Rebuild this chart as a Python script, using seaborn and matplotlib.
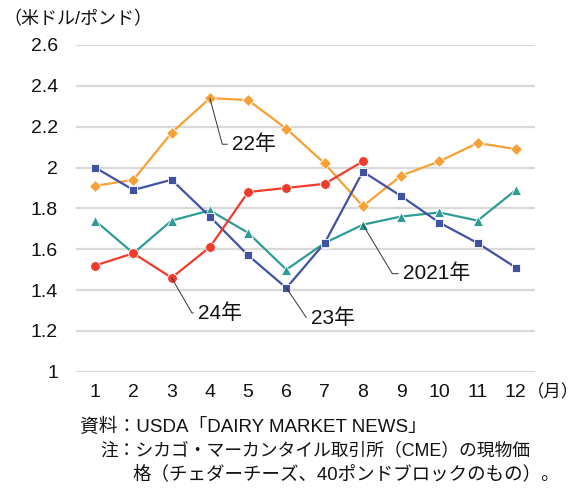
import matplotlib
matplotlib.use("Agg")
import matplotlib.pyplot as plt
import seaborn as sns
import pandas as pd

sns.set_theme(style="white")
plt.rcParams['font.family'] = ['Liberation Sans', 'Noto Sans CJK JP', 'DejaVu Sans']

months = list(range(1, 13))
y2021 = [1.74, 1.58, 1.74, 1.79, 1.68, 1.50, 1.63, 1.72, 1.76, 1.78, 1.74, 1.89]
y2022 = [1.91, 1.94, 2.17, 2.34, 2.33, 2.19, 2.02, 1.81, 1.96, 2.03, 2.12, 2.09]
y2023 = [2.00, 1.89, 1.94, 1.76, 1.57, 1.41, 1.63, 1.98, 1.86, 1.73, 1.63, 1.51]
y2024 = [1.52, 1.58, 1.46, 1.61, 1.88, 1.90, 1.92, 2.03]
yticks = [1, 1.2, 1.4, 1.6, 1.8, 2, 2.2, 2.4, 2.6]
ytick_labels = ["1", "1.2", "1.4", "1.6", "1.8", "2", "2.2", "2.4", "2.6"]

series = [
    ("2021年", y2021, "#2E9C95", "^", 6.5),
    ("22年", y2022, "#F7A035", "D", 6.3),
    ("23年", y2023, "#4152A3", "s", 6.2),
    ("24年", y2024, "#EE3B2C", "o", 7),
]

W, H = 581, 491
fig = plt.figure(figsize=(W/100, H/100), dpi=100)
ax = fig.add_axes([76/W, 1 - 371.7/H, (535-76)/W, (371.7-45)/H])

for name, vals, color, mk, ms in series:
    df = pd.DataFrame({"month": months[:len(vals)], "value": vals})
    sns.lineplot(data=df, x="month", y="value", ax=ax, color=color, linewidth=1.6,
                 marker=mk, markersize=ms, markeredgecolor="white", markeredgewidth=0.6,
                 legend=False)

ax.set_xlim(0.5, 12.5)
ax.set_ylim(1, 2.6)
ax.set_yticks(yticks)
ax.set_yticklabels(ytick_labels)
ax.set_xticks(months)
ax.set_xticklabels([str(m) for m in months])
ax.set_xlabel("")
ax.set_ylabel("")
for s in ax.spines.values():
    s.set_visible(False)
ax.yaxis.grid(True, color="#D9D9D9", linewidth=1.6)
ax.set_axisbelow(True)
ax.tick_params(axis="both", length=0, labelsize=14, colors="#111111")
ax.tick_params(axis="y", pad=13)
ax.tick_params(axis="x", pad=9)

# Annotations with leader lines (diagonal from point, short horizontal into label)
def annot(text, xy, xytext, angle):
    ax.annotate(text, xy=xy, xytext=xytext, textcoords="data", fontsize=15,
                va="center", ha="left", color="#111111",
                arrowprops=dict(arrowstyle="-", color="#333333", linewidth=0.7,
                                relpos=(0, 0.5),
                                connectionstyle=f"angle,angleA=0,angleB={angle},rad=0",
                                shrinkA=1, shrinkB=0))

annot("22年", (4, y2022[3]), (4.58, 2.114), -75)
annot("24年", (3, y2024[2]), (3.69, 1.288), -60)
annot("23年", (6, y2023[5]), (6.64, 1.264), -56)
annot("2021年", (8, y2021[7]), (9.05, 1.48), -59)

fig.text(3/W, 1 - 20/H, "（米ドル/ポンド）", fontsize=13, va="center", ha="left", color="#111111")
fig.text(527/W, 1 - 392/H, "（月）", fontsize=12.5, va="center", ha="left", color="#111111")

fig.text(80/W, 1 - 427/H, "資料：USDA「DAIRY MARKET NEWS」", fontsize=13.5, va="center", ha="left", color="#111111")
fig.text(100/W, 1 - 450.5/H, "注：シカゴ・マーカンタイル取引所（CME）の現物価", fontsize=12.8, va="center", ha="left", color="#111111")
fig.text(132/W, 1 - 474/H, "格（チェダーチーズ、40ポンドブロックのもの）。", fontsize=13.3, va="center", ha="left", color="#111111")

fig.savefig("out.png", dpi=100)
